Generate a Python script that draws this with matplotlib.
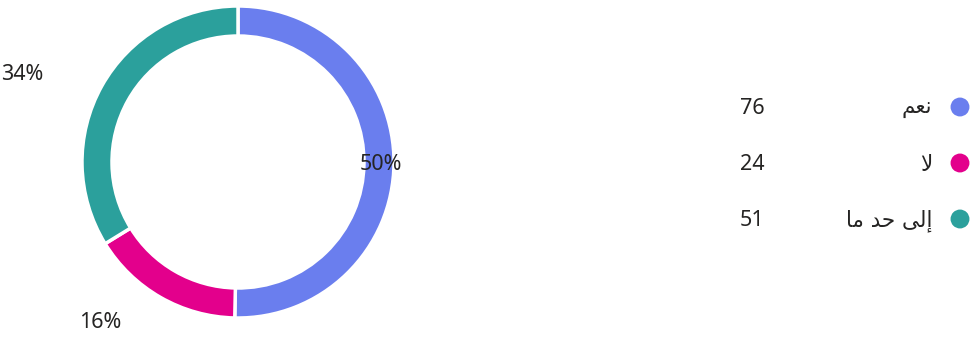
import matplotlib
matplotlib.use("Agg")
import matplotlib.pyplot as plt

# ---- data ----
categories = ['نعم', 'لا', 'إلى حد ما']
counts = [76, 24, 51]
colors = ['#6A7EEE', '#E3008C', '#2BA09C']

# ---- minimal Arabic shaping (presentation forms, visual order) ----
FORMS = {  # isolated, final, initial, medial (None = right-joining only)
    'ن': ('\uFEE5', '\uFEE6', '\uFEE7', '\uFEE8'),
    'ع': ('\uFEC9', '\uFECA', '\uFECB', '\uFECC'),
    'م': ('\uFEE1', '\uFEE2', '\uFEE3', '\uFEE4'),
    'ل': ('\uFEDD', '\uFEDE', '\uFEDF', '\uFEE0'),
    'ح': ('\uFEA1', '\uFEA2', '\uFEA3', '\uFEA4'),
    'ا': ('\uFE8D', '\uFE8E', None, None),
    'إ': ('\uFE87', '\uFE88', None, None),
    'ى': ('\uFEEF', '\uFEF0', None, None),
    'د': ('\uFEA9', '\uFEAA', None, None),
}
LAMALEF = {'ا': ('\uFEFB', '\uFEFC'), 'إ': ('\uFEF9', '\uFEFA')}


def shape_word(w):
    chars = []
    i = 0
    while i < len(w):
        if w[i] == 'ل' and i + 1 < len(w) and w[i + 1] in LAMALEF:
            chars.append(('LA', w[i + 1]))
            i += 2
        else:
            chars.append(('C', w[i]))
            i += 1

    def joins_next(c):
        if c[0] == 'LA':
            return False
        f = FORMS.get(c[1])
        return f is not None and f[2] is not None

    def joins_prev(c):
        return c[0] == 'LA' or c[1] in FORMS

    out = []
    for k, c in enumerate(chars):
        prev = k > 0 and joins_next(chars[k - 1]) and joins_prev(c)
        nxt = k + 1 < len(chars) and joins_next(c) and joins_prev(chars[k + 1])
        if c[0] == 'LA':
            out.append(LAMALEF[c[1]][1 if prev else 0])
            continue
        f = FORMS.get(c[1])
        if f is None:
            out.append(c[1])
        elif prev and nxt:
            out.append(f[3])
        elif prev:
            out.append(f[1])
        elif nxt:
            out.append(f[2])
        else:
            out.append(f[0])
    return ''.join(reversed(out))


def shape(text):
    return ' '.join(shape_word(w) for w in reversed(text.split(' ')))


W, H = 973, 338
fig = plt.figure(figsize=(W / 100, H / 100), dpi=100)
ax = fig.add_axes([0, 0, 1, 1])

cx, cy, R = 238, 176, 156
wedges, _ = ax.pie(counts, colors=colors, startangle=90, counterclock=False,
                   center=(cx, cy), radius=R,
                   wedgeprops=dict(width=30, edgecolor='white', linewidth=2.5))
ax.set_xlim(0, W)
ax.set_ylim(0, H)
ax.set_aspect('equal')
ax.axis('off')

total = sum(counts)
pcts = [f"{round(100 * c / total)}%" for c in counts]
txt_color = '#252423'
font = ['Noto Sans', 'DejaVu Sans']

# percentage labels
label_pos = [(381, 174, 'center'), (100, 15, 'center'), (43, 264, 'right')]
for p, (x, y, ha) in zip(pcts, label_pos):
    ax.text(x, y, p, ha=ha, va='center', fontsize=15.5, color=txt_color,
            family=font)

# legend
ys = [231, 175, 119]
for cat, n, col, y in zip(categories, counts, colors, ys):
    ax.scatter([960], [y], s=185, color=col, edgecolors='none')
    ax.text(932, y - 2, shape(cat), ha='right', va='center', fontsize=15.5,
            color=txt_color, family=['DejaVu Sans'])
    ax.text(740, y - 2, str(n), ha='left', va='center', fontsize=15.5,
            color=txt_color, family=font)

fig.savefig('out.png', dpi=100)
